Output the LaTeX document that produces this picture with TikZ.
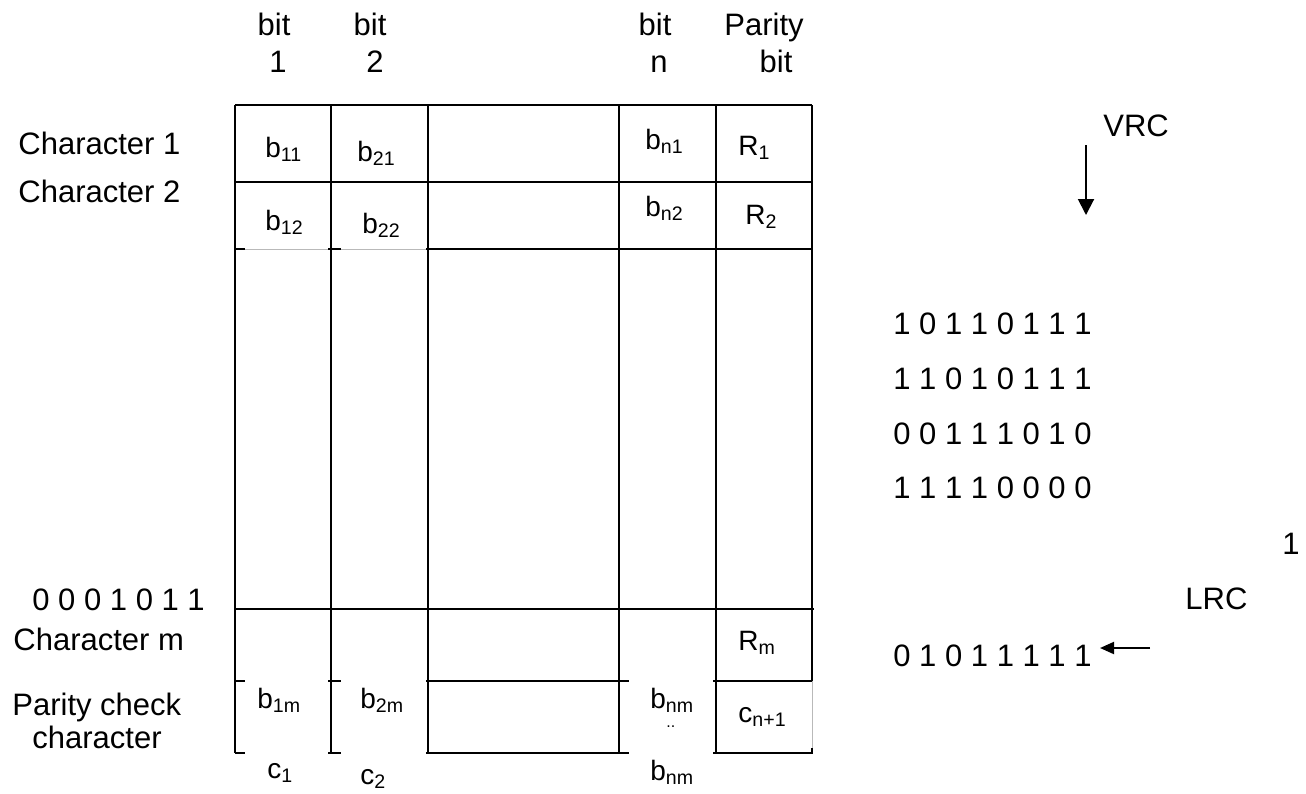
\documentclass[tikz,border=0pt]{standalone}
\usepackage{fontspec}
\setmainfont{Liberation Sans}
\usetikzlibrary{arrows.meta}
\begin{document}
\begin{tikzpicture}[x=0.5pt,y=-0.5pt,
  lbl/.style={inner sep=0pt,anchor=base west,font=\fontsize{15.5pt}{18pt}\selectfont},
  hdr/.style={inner sep=0pt,anchor=base,font=\fontsize{15.5pt}{18pt}\selectfont},
  cell/.style={inner sep=0pt,anchor=base west,font=\fontsize{14pt}{16pt}\selectfont},
  grid/.style={line width=1pt,black},
  faint/.style={line width=0.4pt,gray!55},
  arr/.style={line width=1pt,-{Triangle[length=8pt,width=8pt]}},
  arrs/.style={line width=1pt,-{Triangle[length=7pt,width=6pt]}}]
\useasboundingbox (0,0) rectangle (1306,793);
% header
\node[hdr] (h1a) at (274,35) {bit};
\node[hdr] (h1b) at (278,72) {1};
\node[hdr] (h2a) at (370,35) {bit};
\node[hdr] (h2b) at (375,72) {2};
\node[hdr] (hna) at (655,35) {bit};
\node[hdr] (hnb) at (659,72) {n};
\node[hdr] (hpa) at (764,35) {Parity};
\node[hdr] (hpb) at (776,72) {bit};
% left labels
\node[lbl] (c1) at (18,154) {Character 1};
\node[lbl] (c2) at (18,202) {Character 2};
\node[lbl] (z1) at (32,610) {0 0 0 1 0 1 1};
\node[lbl] (cm) at (13,650) {Character m};
\node[lbl] (pc) at (12,715) {Parity check};
\node[lbl] (pd) at (32,748) {character};
% table lines
\draw[grid] (235,105) -- (235,753);
\draw[grid] (331,105) -- (331,753);
\draw[grid] (428,105) -- (428,753);
\draw[grid] (619,105) -- (619,753);
\draw[grid] (716,105) -- (716,753);
\draw[grid] (812,105) -- (812,681);
\draw[faint] (812,681) -- (812,753);
\draw[grid] (808,753) -- (812,753) -- (812,748);
\draw[grid] (235,105) -- (812,105);
\draw[grid] (235,182) -- (812,182);
\draw[faint] (245,249) -- (328,249) (341,249) -- (426,249);
\draw[grid] (235,249) -- (245,249) (328,249) -- (341,249) (426,249) -- (812,249);
\draw[grid] (235,609) -- (814,609);
\foreach \yy in {681,753}{
  \draw[grid] (235,\yy) -- (245,\yy) (328,\yy) -- (341,\yy) (426,\yy) -- (629,\yy) (713,\yy) -- (812,\yy);
}
% cells
\node[cell] (b11) at (265,157) {b\textsubscript{11}};
\node[cell] (b21) at (357,161) {b\textsubscript{21}};
\node[cell] (bn1) at (645,149) {b\textsubscript{n1}};
\node[cell] (r1) at (738,155) {R\textsubscript{1}};
\node[cell] (b12) at (265,230) {b\textsubscript{12}};
\node[cell] (b22) at (362,233) {b\textsubscript{22}};
\node[cell] (bn2) at (645,216) {b\textsubscript{n2}};
\node[cell] (r2) at (745,224) {R\textsubscript{2}};
\node[cell] (rm) at (738,650) {R\textsubscript{m}};
\node[cell] (b1m) at (257,708) {b\textsubscript{1m}};
\node[cell] (b2m) at (360,708) {b\textsubscript{2m}};
\node[cell] (bnm) at (650,708) {b\textsubscript{nm}};
\node[cell,font=\fontsize{8pt}{9pt}\selectfont] (dots) at (666,727) {..};
\node[cell] (cn1) at (738,722) {c\textsubscript{n+1}};
\node[cell] (cc1) at (267,778) {c\textsubscript{1}};
\node[cell] (cc2) at (360,784) {c\textsubscript{2}};
\node[cell] (bnm2) at (650,780) {b\textsubscript{nm}};
% right side
\node[lbl] (vrc) at (1103,136) {VRC};
\coordinate (va) at (1086,145);
\coordinate (vb) at (1086,215);
\draw[arr] (va) -- (vb);
\node[lbl] (r1b) at (893,334) {1 0 1 1 0 1 1 1};
\node[lbl] (r2b) at (893,389) {1 1 0 1 0 1 1 1};
\node[lbl] (r3b) at (893,444) {0 0 1 1 1 0 1 0};
\node[lbl] (r4b) at (893,498) {1 1 1 1 0 0 0 0};
\node[lbl] (one) at (1282,554) {1};
\node[lbl] (lrc) at (1185,609) {LRC};
\node[lbl] (r5b) at (893,666) {0 1 0 1 1 1 1 1};
\coordinate (la) at (1150,648);
\coordinate (lb) at (1100,648);
\draw[arrs] (la) -- (lb);
\end{tikzpicture}
\end{document}
